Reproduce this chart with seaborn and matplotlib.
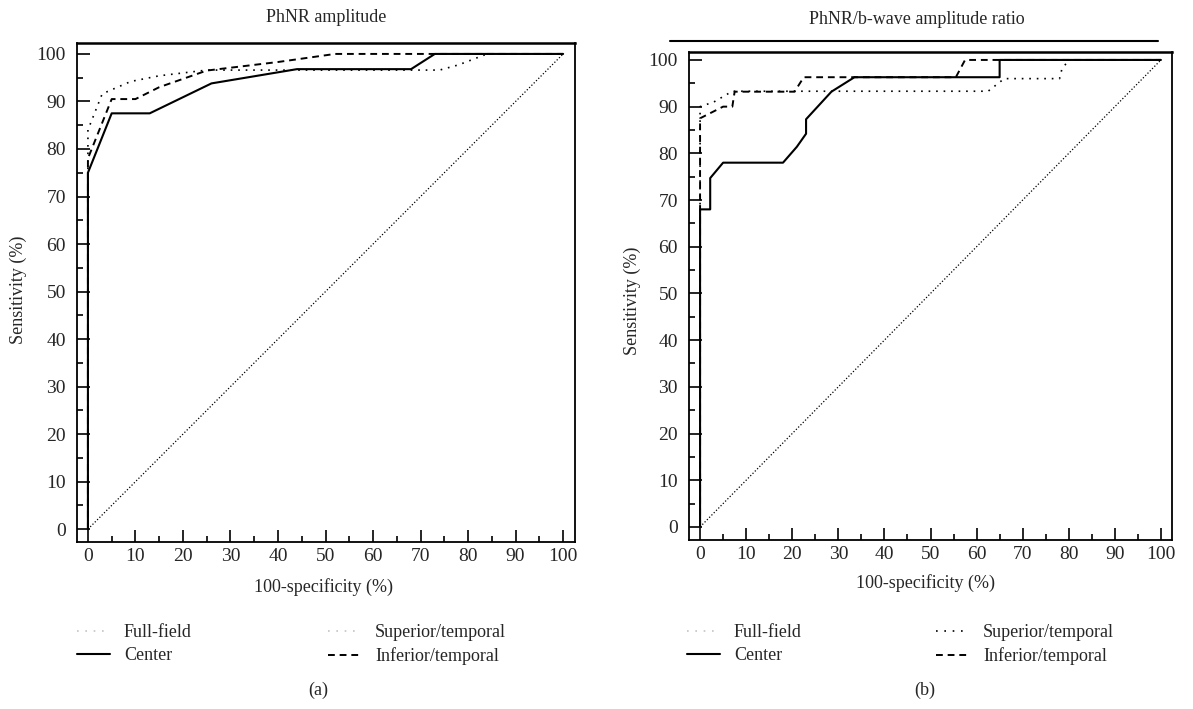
import matplotlib
matplotlib.use("Agg")
import matplotlib.pyplot as plt
from matplotlib.lines import Line2D
from matplotlib.ticker import MultipleLocator
import seaborn as sns

# ROC curves (x = 100-specificity %, y = sensitivity %)
# (a) PhNR amplitude
a_center_x = [0, 0, 5, 13, 26, 44, 68, 73, 100]
a_center_y = [0, 75, 87.5, 87.5, 93.8, 96.8, 96.8, 100, 100]
a_inferior_x = [0, 0, 5, 10, 15, 25, 40, 52, 100]
a_inferior_y = [0, 78, 90.5, 90.5, 93, 96.5, 98.3, 100, 100]
a_superior_x = [0, 0, 3, 9, 15, 25, 32, 74, 78, 84, 100]
a_superior_y = [0, 84, 91.6, 94.2, 95.4, 96.6, 96.6, 96.6, 97.7, 100, 100]

# (b) PhNR/b-wave amplitude ratio
b_center_x = [0, 0, 2.2, 2.2, 5, 18, 21, 23, 23, 28.5, 33.5, 65, 65, 100]
b_center_y = [0, 68, 68, 74.7, 78, 78, 81.4, 84.2, 87.3, 93.2, 96.3, 96.3, 100, 100]
b_inferior_x = [0, 0, 5, 7, 7.5, 20.5, 22.5, 55.5, 57.5, 100]
b_inferior_y = [0, 87.5, 90, 90, 93.2, 93.2, 96.3, 96.3, 100, 100]
b_superior_x = [0, 0, 3, 7, 62.5, 66, 78, 78.5, 80, 100]
b_superior_y = [0, 90, 91, 93.3, 93.3, 96, 96, 98, 100, 100]

chance = [0, 100]

titles = ["PhNR amplitude", "PhNR/b-wave amplitude ratio"]
panel_tags = ["(a)", "(b)"]
labels_col1 = ["Full-field", "Center"]
labels_col2 = ["Superior/temporal", "Inferior/temporal"]

sns.set_style("ticks")
plt.rcParams["font.family"] = ["Liberation Serif", "DejaVu Serif"]
plt.rcParams["font.size"] = 13

W, H = 1193, 709
fig = plt.figure(figsize=(W / 100, H / 100), dpi=100)

def fx(px):
    return px / W

def fy(py):
    return 1 - py / H

axA = fig.add_axes([fx(77), fy(542), fx(575) - fx(77), fy(43) - fy(542)])
axB = fig.add_axes([fx(689), fy(540), fx(1172) - fx(689), fy(52) - fy(540)])

solid = dict(color="black", lw=1.5)
dashed = dict(color="black", lw=1.4, linestyle=(0, (3.5, 2.5)))
dotted = dict(color="black", lw=1.2, linestyle=(0, (1, 3.5)))
diag = dict(color="black", lw=0.9, linestyle=(0, (1, 1.6)))

curves = [
    (axA, a_center_x, a_center_y, a_inferior_x, a_inferior_y, a_superior_x, a_superior_y),
    (axB, b_center_x, b_center_y, b_inferior_x, b_inferior_y, b_superior_x, b_superior_y),
]

for ax, cx, cy, ix, iy, sx, sy in curves:
    sns.lineplot(x=chance, y=chance, estimator=None, sort=False, ax=ax, **diag)
    sns.lineplot(x=sx, y=sy, estimator=None, sort=False, ax=ax, **dotted)
    sns.lineplot(x=ix, y=iy, estimator=None, sort=False, ax=ax, **dashed)
    sns.lineplot(x=cx, y=cy, estimator=None, sort=False, ax=ax, **solid)

axA.set_xlim(-2.3, 102.5)
axA.set_ylim(-2.7, 102.3)
axB.set_xlim(-2.4, 102.4)
axB.set_ylim(-2.8, 101.7)

for ax in (axA, axB):
    ax.xaxis.set_major_locator(MultipleLocator(10))
    ax.xaxis.set_minor_locator(MultipleLocator(5))
    ax.yaxis.set_major_locator(MultipleLocator(10))
    ax.yaxis.set_minor_locator(MultipleLocator(5))
    ax.tick_params(which="both", direction="in", color="black", width=1.2,
                   top=False, right=False)
    ax.tick_params(which="major", length=9)
    ax.tick_params(which="minor", length=4.5)
    ax.tick_params(axis="x", which="major", pad=4, labelsize=14)
    ax.tick_params(axis="y", which="major", pad=8, labelsize=14)
    for side in ["left", "right", "top", "bottom"]:
        ax.spines[side].set_visible(True)
        ax.spines[side].set_color("black")
        ax.spines[side].set_linewidth(1.3)
    ax.spines["top"].set_linewidth(1.8)
    ax.set_xlabel("100-specificity (%)", fontsize=13)
    ax.set_ylabel("Sensitivity (%)", fontsize=13)

axA.xaxis.set_label_coords(0.494, -0.072)
axA.yaxis.set_label_coords(-0.1, 0.505)
axB.xaxis.set_label_coords(0.49, -0.07)
axB.yaxis.set_label_coords(-0.1, 0.49)

# titles and the rule above panel (b)
fig.text(fx(326), fy(18), titles[0], ha="center", va="center", fontsize=13)
fig.text(fx(917), fy(20), titles[1], ha="center", va="center", fontsize=13)
fig.add_artist(Line2D([fx(670), fx(1158)], [fy(41), fy(41)], color="black", lw=1.5))

# legends below each panel, two columns each
faint = "#c4c4c4"
leg_specs = [
    # (col1 x, col2 x, superior colour)
    (77, 328, faint),
    (687, 936, "black"),
]
for (x1, x2, sup_col), tag, tx in zip(leg_specs, panel_tags, [318, 925]):
    h1 = [Line2D([], [], color=faint, lw=1.2, linestyle=(0, (1, 4))),
          Line2D([], [], color="black", lw=1.5)]
    h2 = [Line2D([], [], color=sup_col, lw=1.2, linestyle=(0, (1, 4))),
          Line2D([], [], color="black", lw=1.4, linestyle=(0, (3.5, 2.5)))]
    for x0, hs, ls in [(x1, h1, labels_col1), (x2, h2, labels_col2)]:
        fig.legend(hs, ls, loc="upper left", bbox_to_anchor=(fx(x0), fy(624)),
                   frameon=False, fontsize=13, handlelength=1.8, handletextpad=0.8,
                   borderpad=0, borderaxespad=0, labelspacing=0.35)
    fig.text(fx(tx), fy(690), tag, ha="center", va="center", fontsize=13)

fig.savefig("out.png", dpi=100, facecolor="white")
